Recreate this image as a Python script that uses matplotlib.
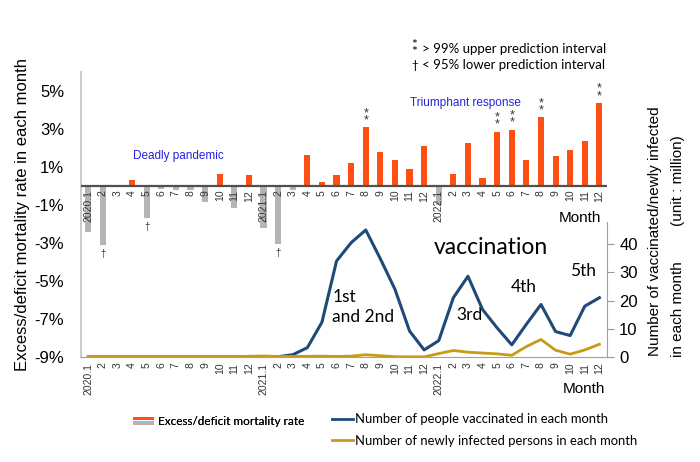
import numpy as np
import matplotlib
matplotlib.use('Agg')
import matplotlib.pyplot as plt
from matplotlib.patches import Rectangle
from matplotlib.lines import Line2D
from matplotlib.legend_handler import HandlerBase

plt.rcParams['font.family'] = ['Liberation Sans', 'DejaVu Sans']

# month labels 2020.1 .. 2022.12
months = []
for yr in [2020, 2021, 2022]:
    months += [f"{yr}.1"] + [str(m) for m in range(2, 13)]

# excess/deficit mortality rate (%)
mortality = [-2.4, -3.1, 0.07, 0.3, -1.7, -0.18, -0.2, -0.2, -0.86, 0.65, -1.15, 0.56,
             -2.2, -3.05, -0.2, 1.65, 0.21, 0.56, 1.23, 3.1, 1.77, 1.39, 0.88, 2.09,
             -1.0, 0.65, 2.26, 0.4, 2.86, 2.96, 1.35, 3.63, 1.58, 1.91, 2.35, 4.37]
# significance marks
upper_marks = ["2021.8", "2022.5", "2022.6", "2022.8", "2022.12"]
lower_marks = ["2020.2", "2020.5", "2021.2"]

# millions per month
vaccinated = [0, 0, 0, 0, 0, 0, 0, 0, 0, 0, 0, 0,
              0, 0.1, 0.8, 3.3, 12.3, 34, 40.5, 45, 34.8, 24, 9.2, 2.5,
              5.8, 21, 28.6, 16.8, 10.3, 4.3, 11.6, 18.6, 9, 7.6, 18, 21]
infected = [0.01, 0.01, 0.05, 0.1, 0.05, 0.05, 0.1, 0.15, 0.1, 0.1, 0.15, 0.25,
            0.35, 0.2, 0.2, 0.25, 0.3, 0.2, 0.3, 0.8, 0.45, 0.1, 0.05, 0.05,
            1.2, 2.3, 1.7, 1.4, 1.1, 0.6, 3.7, 6.2, 2.4, 1.0, 2.5, 4.5]

keys = []
for yr in [2020, 2021, 2022]:
    keys += [f"{yr}.{m}" for m in range(1, 13)]

orange = '#ff4f12'
grey = '#b4b4b4'
blue = '#1f4a78'
gold = '#c99a14'

fig = plt.figure(figsize=(7, 4.62), dpi=100)
ax = fig.add_axes([0.1157, 0.2273, 0.751, 0.617])
x = np.arange(len(months))
cols = [orange if v > 0 else grey for v in mortality]
ax.bar(x, mortality, width=0.42, color=cols, zorder=2)
ax.axhline(0, color='#505050', lw=1.6, zorder=3)
ax.set_xlim(-0.5, 35.5)
ax.set_ylim(-9, 6)
ax.set_yticks(range(-9, 6, 2))
ax.set_yticklabels([f"{v}%" for v in range(-9, 6, 2)], fontsize=12)
ax.tick_params(axis='y', length=0, pad=12)
ax.set_xticks(x)
ax.set_xticklabels(months, rotation=90, fontsize=7.5, color='#333333')
ax.tick_params(axis='x', length=0, pad=4)
ax.set_ylabel("Excess/deficit mortality rate in each month", fontsize=12, labelpad=3)
for s in ['top', 'right']:
    ax.spines[s].set_visible(False)
ax.spines['left'].set_color('#cccccc')
ax.spines['left'].set_linewidth(1.5)
ax.spines['bottom'].set_color('#a0a0a0')

# month labels under the zero line
for i, m in enumerate(months):
    ax.text(i, -0.2, m, rotation=90, ha='center', va='top', fontsize=7.5,
            color='#333333', zorder=4)
ax.text(35.1, -1.7, "Month", ha='right', va='center', fontsize=11)
fig.text(0.865, 0.157, "Month", ha='right', va='center', fontsize=11)

for k in upper_marks:
    i = keys.index(k)
    ax.text(i, mortality[i] + 0.05, "*\n*", ha='center', va='bottom',
            fontsize=9, linespacing=0.45, color='#333333')
for k in lower_marks:
    i = keys.index(k)
    ax.text(i, mortality[i] - 0.2, "\u2020", ha='center', va='top',
            fontsize=7, color='#333333')

lato = ['Lato', 'DejaVu Sans']
ax.text(6.2, 1.58, "Deadly pandemic", ha='center', va='center', fontsize=8.5, color='#2424e0')
ax.text(25.8, 4.37, "Triumphant response", ha='center', va='center', fontsize=8.5, color='#2424e0')
ax.text(27.6, -3.26, "vaccination", ha='center', va='center', fontsize=16.5, family=lato)
ax.text(16.7, -6.37, "1st\nand 2nd", ha='left', va='center', fontsize=12.5, family=lato,
        linespacing=1.3)
ax.text(25.2, -6.8, "3rd", ha='left', va='center', fontsize=12.5, family=lato)
ax.text(28.95, -5.32, "4th", ha='left', va='center', fontsize=12.5, family=lato)
ax.text(33.0, -4.47, "5th", ha='left', va='center', fontsize=12.5, family=lato)

# right axis: vaccinated / infected
ax2 = ax.twinx()
ax2.plot(x, vaccinated, color=blue, lw=2.2, zorder=5)
ax2.plot(x, infected, color=gold, lw=2.0, zorder=5)
ax2.set_ylim(0, 101)
ax2.set_yticks([0, 10, 20, 30, 40])
ax2.tick_params(axis='y', labelsize=12, length=5, color='#999999', pad=4)
for s in ['top', 'left', 'bottom']:
    ax2.spines[s].set_visible(False)
ax2.spines['right'].set_bounds(0, 48)
ax2.spines['right'].set_color('#a0a0a0')

fig.text(0.935, 0.50, "Number of vaccinated/newly infected", rotation=90,
         ha='center', va='center', fontsize=11)
fig.text(0.968, 0.33, "in each month", rotation=90, ha='center', va='center', fontsize=11)
fig.text(0.968, 0.61, "(unit : million)", rotation=90, ha='center', va='center', fontsize=11)

# top-right key
fig.text(0.592, 0.895, "*\n*", ha='center', va='center', fontsize=10,
         linespacing=0.45, family=lato)
fig.text(0.603, 0.895, "> 99% upper prediction interval", ha='left', va='center',
         fontsize=9.5, family=lato)
fig.text(0.592, 0.859, "\u2020", ha='center', va='center', fontsize=8.5, family=lato)
fig.text(0.603, 0.859, "< 95% lower prediction interval", ha='left', va='center',
         fontsize=9.5, family=lato)


class StackedHandler(HandlerBase):
    def create_artists(self, legend, orig_handle, xdescent, ydescent, width, height,
                       fontsize, trans):
        top = Rectangle((-xdescent, -ydescent + height * 0.55), width, height * 0.45,
                        fc=orange, ec='none', transform=trans)
        bot = Rectangle((-xdescent, -ydescent), width, height * 0.45,
                        fc=grey, ec='none', transform=trans)
        return [top, bot]


bar_handle = Rectangle((0, 0), 1, 1)
leg1 = fig.legend([bar_handle], ["Excess/deficit mortality rate"], loc='center left',
                  bbox_to_anchor=(0.19, 0.088), frameon=False, borderpad=0,
                  borderaxespad=0, handlelength=1.8, handletextpad=0.3,
                  handler_map={Rectangle: StackedHandler()},
                  prop={'family': lato, 'size': 8.5})
fig.add_artist(leg1)
line_handles = [Line2D([], [], color=blue, lw=2), Line2D([], [], color=gold, lw=2)]
fig.legend(line_handles, ["Number of people vaccinated in each month",
                          "Number of newly infected persons in each month"],
           loc='center left', bbox_to_anchor=(0.474, 0.069), frameon=False,
           borderpad=0, borderaxespad=0, handlelength=1.6, handletextpad=0.2,
           labelspacing=0.75, prop={'family': lato, 'size': 9.4})

fig.savefig('out.png', dpi=100)
